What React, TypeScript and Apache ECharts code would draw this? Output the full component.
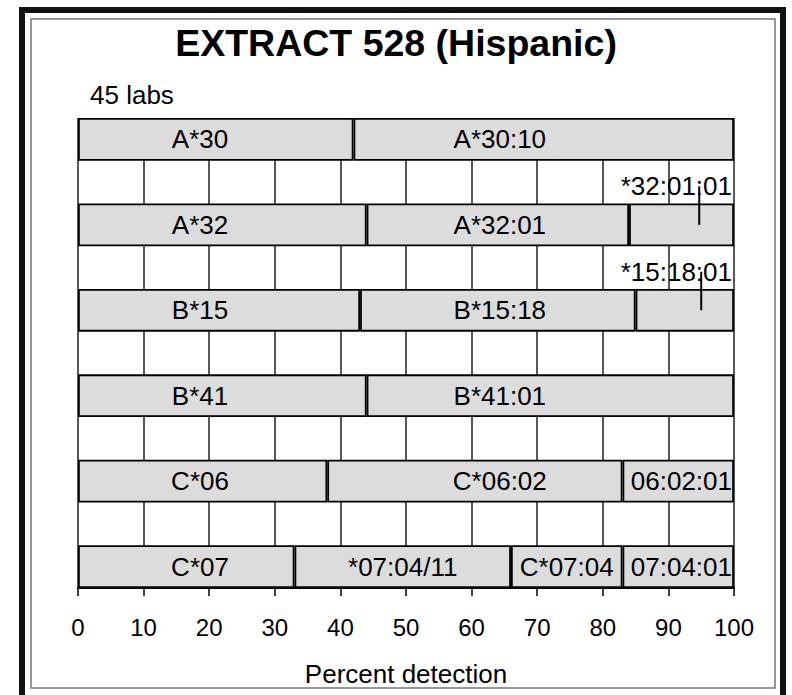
import React, { useEffect, useRef } from "react";
import * as echarts from "echarts";

// ---- data ----
const rowNames = ["A*30", "A*32", "B*15", "B*41", "C*06", "C*07"];
const seg1Values = [42, 44, 43, 44, 38, 33];
const seg2Values = [58, 40, 42, 56, 45, 33];
const seg3Values: (number | null)[] = [null, 16, 15, null, 17, 17];
const seg4Values: (number | null)[] = [null, null, null, null, null, 17];
const seg1Labels = ["A*30", "A*32", "B*15", "B*41", "C*06", "C*07"];
const seg2Labels = ["A*30:10", "A*32:01", "B*15:18", "B*41:01", "C*06:02", "*07:04/11"];
const seg3Labels = ["", "*32:01:01", "*15:18:01", "", "06:02:01", "C*07:04"];
const seg4Labels = ["", "", "", "", "", "07:04:01"];
const leaderX: (number | null)[] = [null, 94.7, 95, null, null, null];
const xMin = 0;
const xMax = 100;
const xInterval = 10;
const titleText = "EXTRACT 528 (Hispanic)";
const subText = "45 labs";
const xName = "Percent detection";

const FONT = "'Liberation Sans', Arial, Helvetica, sans-serif";
const W = 792;
const H = 695;
const GRID = { left: 78, right: 58, top: 118, bottom: 107 };
const PX_PER_UNIT = (W - GRID.left - GRID.right) / (xMax - xMin);
const BAND = (H - GRID.top - GRID.bottom) / (rowNames.length * 2 - 1);
const FIRST_LABEL_AT = 18.6;
const SECOND_LABEL_AT = 64.3;

export default function App() {
  const ref = useRef<HTMLDivElement>(null);
  useEffect(() => {
    if (!ref.current) return;
    const chart = echarts.init(ref.current, null, { renderer: "svg" });

    const yCats: string[] = [];
    rowNames.forEach((r, i) => {
      yCats.push(r);
      if (i < rowNames.length - 1) yCats.push("gap" + i);
    });

    const segValues = [seg1Values, seg2Values, seg3Values, seg4Values];
    const segLabels = [seg1Labels, seg2Labels, seg3Labels, seg4Labels];

    const labelFor = (seg: number, row: number, start: number, value: number, text: string) => {
      const base: any = {
        show: true,
        formatter: text,
        color: "#000",
        fontSize: 26,
        fontFamily: FONT,
        position: "inside",
      };
      const center = start + value / 2;
      const end = start + value;
      if (seg === 0) {
        base.offset = [(FIRST_LABEL_AT - center) * PX_PER_UNIT, 0];
      } else if (seg === 1 && row < rowNames.length - 1) {
        base.offset = [(SECOND_LABEL_AT - center) * PX_PER_UNIT, 0];
      } else if (seg >= 2 && end >= xMax) {
        base.position = "insideRight";
        base.distance = 2;
        if (leaderX[row] != null) base.offset = [0, -0.9 * BAND];
      }
      return base;
    };

    const series: any[] = segValues.map((vals, seg) => {
      const data: any[] = [];
      rowNames.forEach((_, row) => {
        const v = vals[row];
        if (v == null) {
          data.push("-");
        } else {
          let start = 0;
          for (let s = 0; s < seg; s++) start += (segValues[s][row] as number) || 0;
          data.push({
            value: v,
            label: labelFor(seg, row, start, v, segLabels[seg][row]),
          });
        }
        if (row < rowNames.length - 1) data.push("-");
      });
      return {
        type: "bar",
        stack: "total",
        barWidth: "100%",
        data,
        itemStyle: { color: "#dcdcdc", borderColor: "#000", borderWidth: 1.8 },
        emphasis: { disabled: true },
        z: 2,
      };
    });

    const leaderData: any[] = [];
    leaderX.forEach((x, row) => {
      if (x != null) leaderData.push([x, row * 2]);
    });
    series.push({
      type: "custom",
      data: leaderData,
      encode: { x: 0, y: 1 },
      z: 5,
      silent: true,
      renderItem: (params: any, api: any) => {
        const p = api.coord([api.value(0), api.value(1)]);
        const band = api.size([0, 1])[1];
        return {
          type: "line",
          shape: { x1: p[0], y1: p[1], x2: p[0], y2: p[1] - 0.9 * band },
          style: { stroke: "#000", lineWidth: 2 },
        };
      },
    });

    chart.setOption({
      animation: false,
      backgroundColor: "#fff",
      title: [
        {
          text: titleText,
          left: "center",
          top: 24,
          padding: 0,
          textStyle: { fontFamily: FONT, fontSize: 37.5, fontWeight: "bold", color: "#000" },
        },
        {
          text: subText,
          left: 90,
          top: 82,
          padding: 0,
          textStyle: { fontFamily: FONT, fontSize: 26, fontWeight: "normal", color: "#000" },
        },
      ],
      grid: { ...GRID, containLabel: false },
      xAxis: {
        type: "value",
        min: xMin,
        max: xMax,
        interval: xInterval,
        name: xName,
        nameLocation: "middle",
        nameGap: 73,
        nameTextStyle: { fontFamily: FONT, fontSize: 26, color: "#000" },
        axisLine: { show: true, lineStyle: { color: "#000", width: 2 } },
        axisTick: { show: true, inside: false, length: 8, lineStyle: { color: "#000", width: 1.5 } },
        axisLabel: { margin: 27, fontFamily: FONT, fontSize: 24, color: "#000" },
        splitLine: { show: true, lineStyle: { color: "#222", width: 1.5 } },
      },
      yAxis: {
        type: "category",
        data: yCats,
        inverse: true,
        show: false,
      },
      graphic: [
        {
          type: "rect",
          shape: { x: 22, y: 10, width: 761, height: 700 },
          style: { fill: "none", stroke: "#111", lineWidth: 6 },
          silent: true,
        },
        {
          type: "rect",
          shape: { x: 31, y: 19, width: 744, height: 669 },
          style: { fill: "none", stroke: "#777", lineWidth: 1.5 },
          silent: true,
        },
      ],
      series,
    });
    return () => chart.dispose();
  }, []);
  return (
    <div
      ref={ref}
      style={{ position: "fixed", left: 0, top: 0, width: W, height: H, background: "#fff" }}
    />
  );
}
